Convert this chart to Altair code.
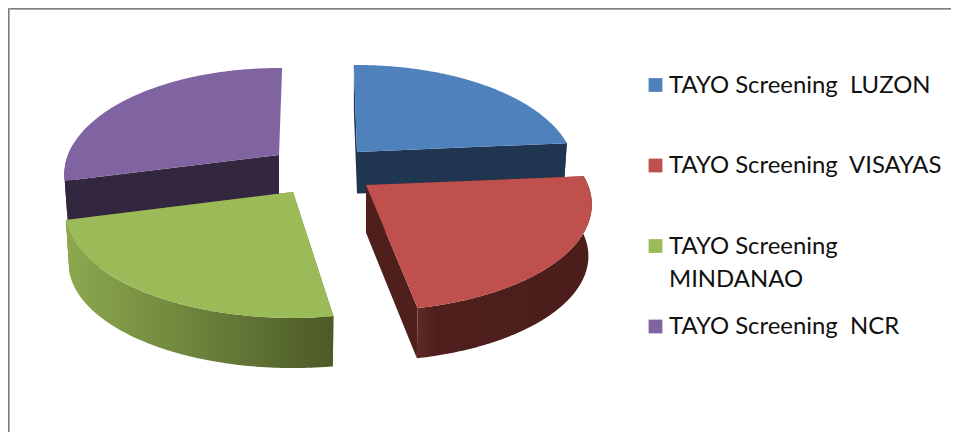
import math
import altair as alt

categories = ["TAYO Screening \u00a0LUZON", "TAYO Screening \u00a0VISAYAS", "TAYO Screening\nMINDANAO", "TAYO Screening \u00a0NCR"]
values = [86, 84, 85, 105]
top_colors = ["#4F81BD", "#C0504D", "#9BBB59", "#8064A2"]
wall_colors = ["#1F3550", "#4F1F1C", "#5F7136", "#33263F"]
arc_stops = [
    [("#1F3550", 0), ("#1F3550", 1)],
    [("#5E2A26", 0), ("#4E1F1C", 0.12), ("#4C1E1B", 1)],
    [("#8CA94F", 0), ("#4C5A27", 1)],
    [("#33263F", 0), ("#33263F", 1)],
]

# drawing set-up of the tilted, exploded pie (page pixels)
centres = [(357, 152), (366, 185), (293, 192), (279, 155)]
radii = [214, 222, 224, 211]
depths = [45, 52, 52, 45]
start_nudges = [0, 0, 2.5, 2]
end_nudges = [0, 0, 1, 2]
end_wall = [True, True, True, False]
START = -1.0
RB, K, SHRINK = 102.9, 0.183, 0.985
W, H = 943, 424


def project(s, theta, lower=False, r=1.0):
    cx, cy = centres[s]
    t = math.radians(theta)
    w = 1 + K * math.cos(t)
    x = radii[s] * r * math.sin(t) / w
    y = -RB * r * math.cos(t) / w
    if lower:
        return [cx + x * SHRINK, cy + y * SHRINK + depths[s]]
    return [cx + x, cy + y]


def feature(ring):
    return {"type": "Feature", "properties": {},
            "geometry": {"type": "Polygon", "coordinates": [ring + [ring[0]]]}}


proj = alt.Projection(type="identity", scale=1, translate=[-8, -8])


def shape(ring, fill):
    return alt.Chart(alt.Data(values=[feature(ring)])).mark_geoshape(
        fill=fill, stroke=None, strokeWidth=0).project(**proj.to_dict())


def gradient(stops):
    return alt.Gradient(gradient="linear", x1=0, x2=1, y1=0, y2=0,
                        stops=[alt.GradientStop(color=c, offset=o) for c, o in stops])


def slice_layers(s, a0, a1):
    cx, cy = centres[s]
    apex = [cx, cy]
    apex_low = [cx, cy + depths[s] * 0.92]
    layers = []
    walls = [a0, a1] if end_wall[s] else [a0]
    for th in walls:
        ring = [apex, project(s, th), project(s, th, True), apex_low]
        layers.append(shape(ring, wall_colors[s]))
    f0, f1 = max(a0, 84), min(a1, 276)
    if f1 > f0:
        n = int(f1 - f0) * 2
        thetas = [f0 + (f1 - f0) * i / n for i in range(n + 1)]
        ring = [project(s, t) for t in thetas] + [project(s, t, True) for t in reversed(thetas)]
        layers.append(shape(ring, gradient(arc_stops[s])))
    n = int(a1 - a0) * 2
    ring = [apex] + [project(s, a0 + (a1 - a0) * i / n) for i in range(n + 1)]
    layers.append(shape(ring, top_colors[s]))
    return layers


angles = []
acc = START
for v in values:
    span = v / sum(values) * 360
    angles.append((acc, acc + span))
    acc += span

layers = []
for s in (0, 3, 2, 1):  # back slices first
    a0, a1 = angles[s]
    layers += slice_layers(s, a0 + start_nudges[s], a1 + end_nudges[s])

x_px = alt.X("x:Q", scale=alt.Scale(domain=[8, 8 + W], range=[0, W]), axis=None)
y_px = alt.Y("y:Q", scale=alt.Scale(domain=[8, 8 + H], range=[0, H]), axis=None)

legend_rows = [
    {"x": 655.5, "tx": 669, "y": 85 + i * 80.5, "label": c, "color": col}
    for i, (c, col) in enumerate(zip(categories, top_colors))
]
legend_data = alt.Data(values=legend_rows)
squares = alt.Chart(legend_data).mark_square(size=190, opacity=1, stroke=None).encode(
    x=x_px, y=y_px, color=alt.Color("color:N", scale=None, legend=None))
labels = alt.Chart(legend_data).mark_text(
    align="left", baseline="top", font="Lato", fontSize=23.9, color="#111111",
    lineBreak="\n", lineHeight=33, dy=-11.5).encode(
    x=alt.X("tx:Q", scale=alt.Scale(domain=[8, 8 + W], range=[0, W]), axis=None), y=y_px, text="label:N")

frame_top = alt.Chart(alt.Data(values=[{"a": 0}])).mark_rule(color="#808080", strokeWidth=1).encode(
    x=alt.value(0), x2=alt.value(W), y=alt.value(0.5))
frame_top2 = alt.Chart(alt.Data(values=[{"a": 0}])).mark_rule(color="#ABABAB", strokeWidth=1).encode(
    x=alt.value(0), x2=alt.value(W), y=alt.value(1.5))
frame_left = alt.Chart(alt.Data(values=[{"a": 0}])).mark_rule(color="#808080", strokeWidth=1).encode(
    y=alt.value(0), y2=alt.value(H), x=alt.value(0.5))
frame_left2 = alt.Chart(alt.Data(values=[{"a": 0}])).mark_rule(color="#ABABAB", strokeWidth=1).encode(
    y=alt.value(0), y2=alt.value(H), x=alt.value(1.5))

chart = alt.layer(frame_top, frame_top2, frame_left, frame_left2, *layers, squares, labels).properties(
    width=W, height=H, padding=0, autosize=alt.AutoSizeParams(type="none")
).configure_view(stroke=None).resolve_scale(x="shared", y="shared")

chart.save("out.html", embed_options={"renderer": "svg", "actions": False})
